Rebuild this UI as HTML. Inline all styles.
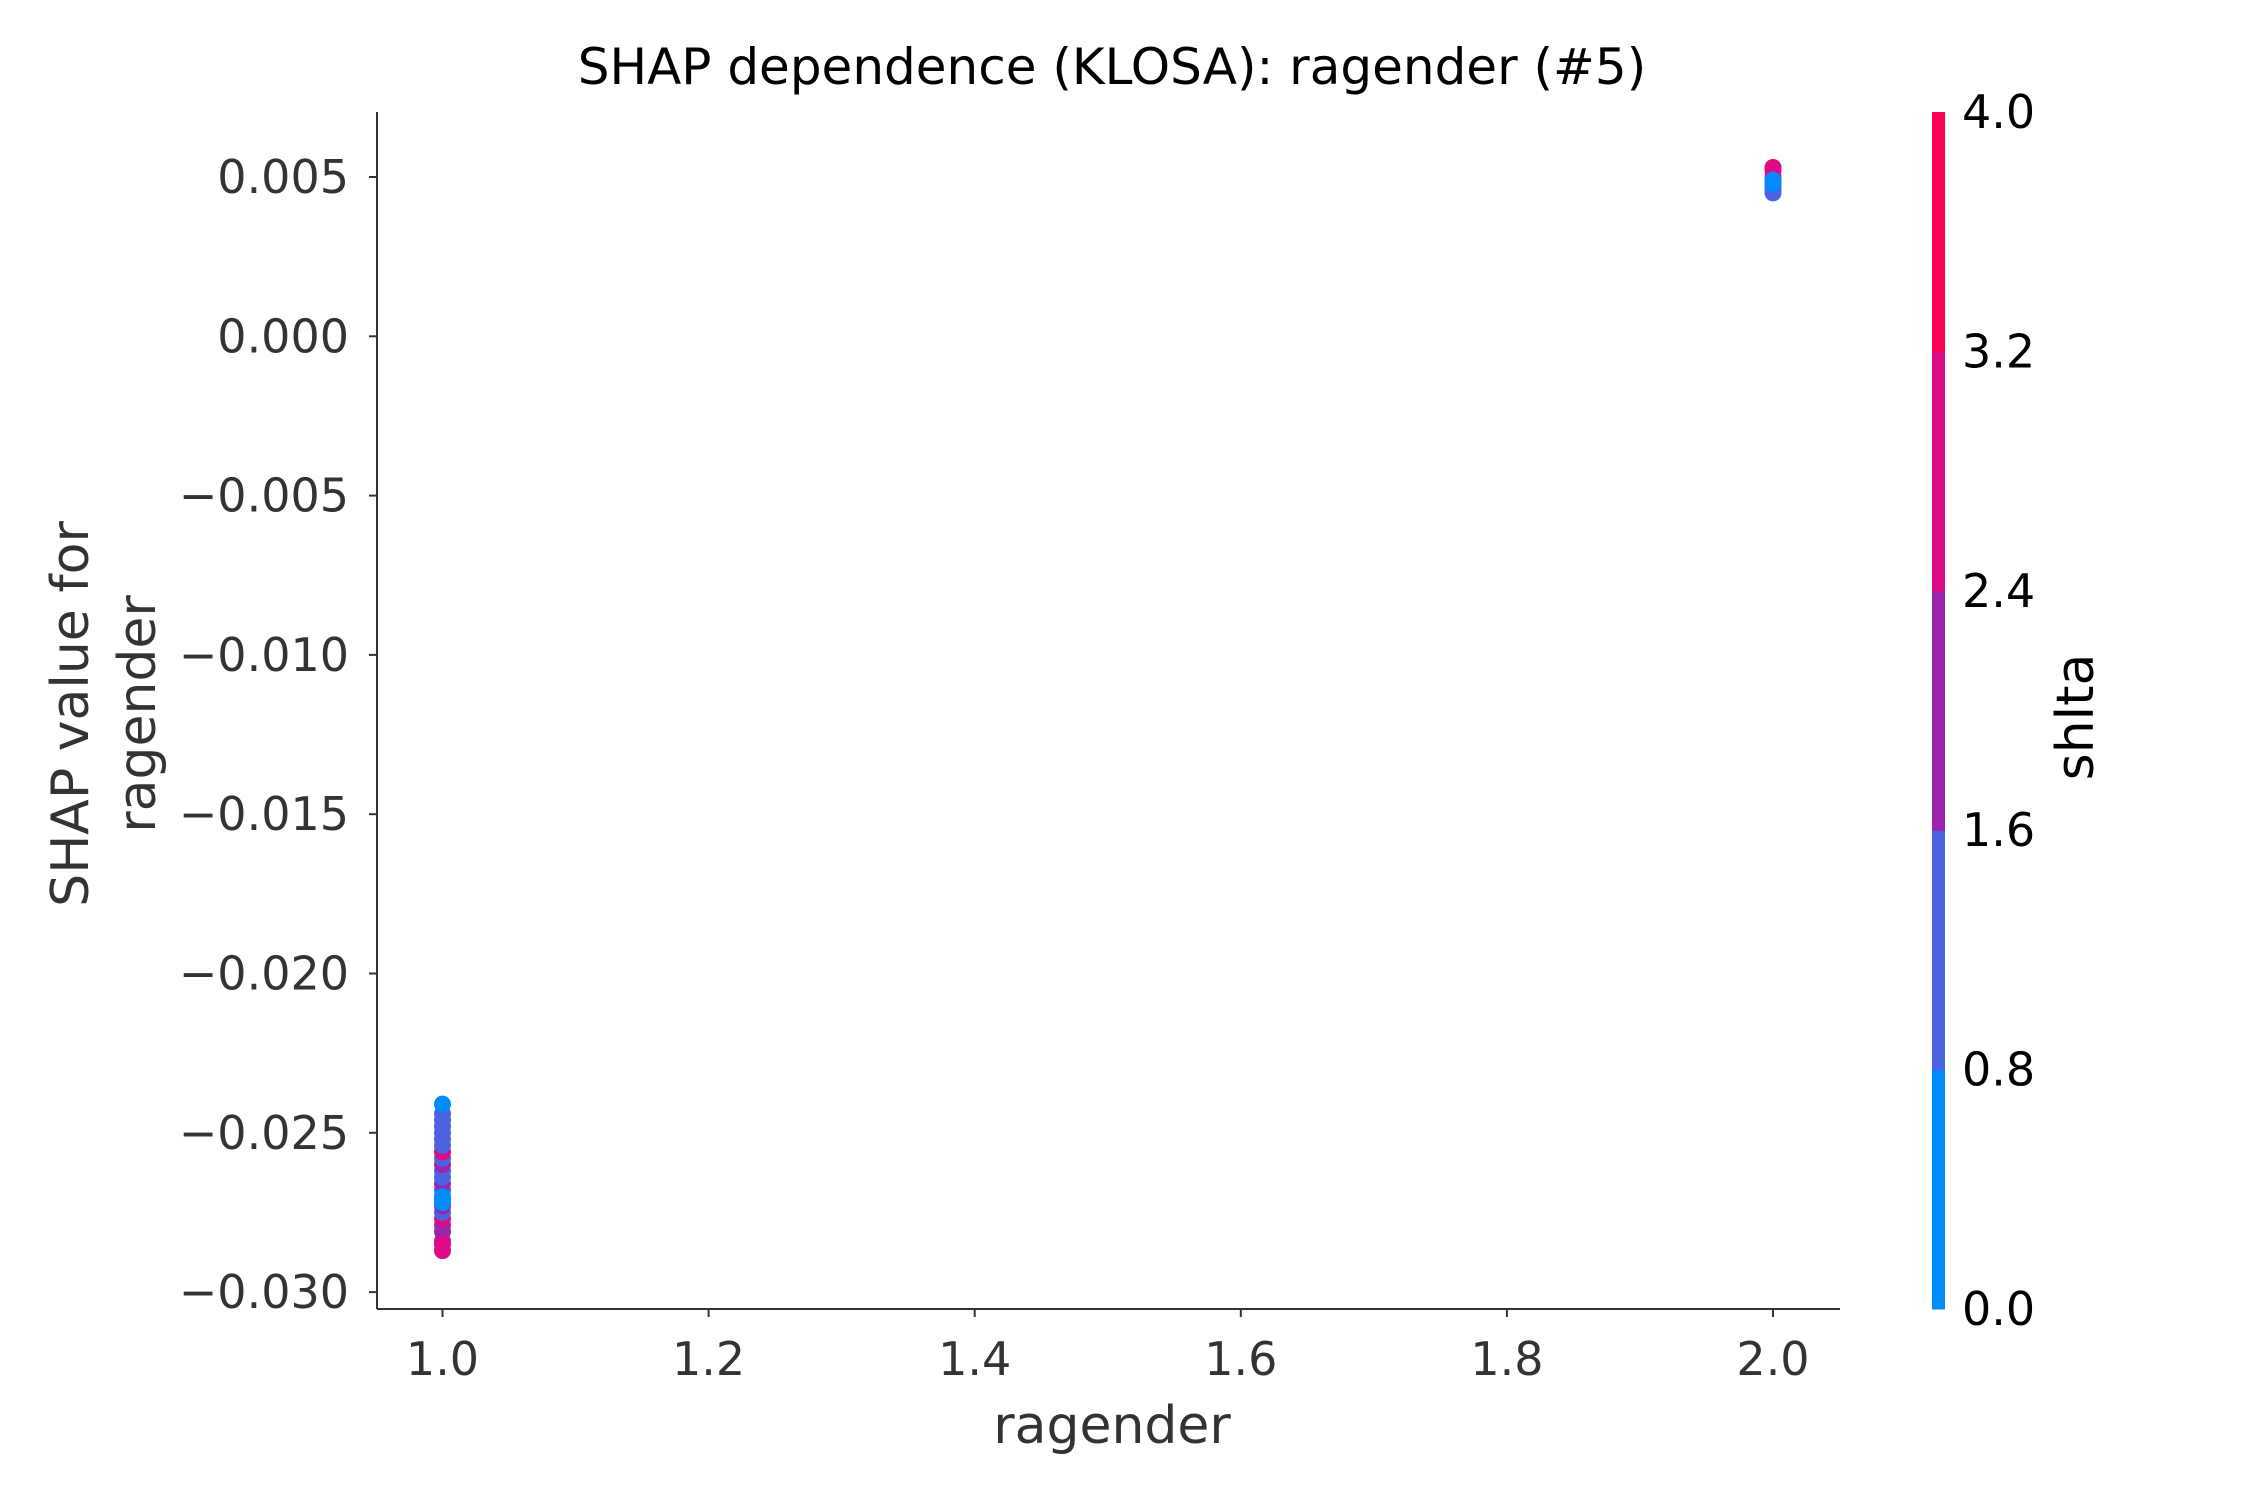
<!DOCTYPE html>
<html><head><meta charset="utf-8"><style>
body{margin:0;background:#fff}
svg text{font-family:"DejaVu Sans","Liberation Sans",sans-serif}
</style></head><body>
<svg id="chart" width="2250" height="1500" xmlns="http://www.w3.org/2000/svg">
<text x="1112" y="84" text-anchor="middle" font-size="50" fill="#000">SHAP dependence (KLOSA): ragender (#5)</text>
<g id="plot"></g>
<g id="axes"></g>
<g id="cbar"></g>
</svg>
<script>
const xTicks=[1.0,1.2,1.4,1.6,1.8,2.0];
const yTicks=[0.005,0.000,-0.005,-0.010,-0.015,-0.020,-0.025,-0.030];
const yTickLabels=["0.005","0.000","\u22120.005","\u22120.010","\u22120.015","\u22120.020","\u22120.025","\u22120.030"];
const cTicks=[0.0,0.8,1.6,2.4,3.2,4.0];
const cTickLabels=["0.0","0.8","1.6","2.4","3.2","4.0"];
const ptX=[1,1,1,1,1,1,1,1,1,1,1,1,1,1,1,1,1,1,1,1,1,1,1,1,1,2,2,2,2,2,2,2,2];
const ptY=[-0.0287,-0.0284,-0.0281,-0.0279,-0.0277,-0.0275,-0.0273,-0.0271,-0.0268,-0.0266,-0.0264,-0.0262,-0.0260,-0.0258,-0.0256,-0.0254,-0.0252,-0.0250,-0.0248,-0.0246,-0.0244,-0.0272,-0.0270,-0.0241,-0.0285,0.0045,0.0046,0.0047,0.0048,0.0050,0.0052,0.0053,0.0049];
const ptC=[3,3,2,2,3,1,2,0,1,2,1,1,2,1,3,1,1,1,1,1,1,0,0,0,3,1,1,1,0,3,3,3,0];
const cColors=["#008bfb","#4b62e3","#9b25ab","#dd0a85","#ff0052"];
const NS="http://www.w3.org/2000/svg";
const X0=377,X1=1840,Y0=112,Y1=1309;
function sx(v){return 442.5+(v-1)*(1773-442.5);}
function sy(v){return 177+(0.005-v)/0.005*159.3;}
function mk(t,a,p){const e=document.createElementNS(NS,t);for(const k in a)e.setAttribute(k,a[k]);p.appendChild(e);return e;}
const plot=document.getElementById('plot'),axes=document.getElementById('axes'),cb=document.getElementById('cbar');
ptX.forEach((x,i)=>{
 const c=mk('circle',{cx:sx(x),cy:sy(ptY[i]),r:8.5,fill:cColors[ptC[i]]},plot);
 
 
});
let l=mk('line',{x1:X0,y1:Y0,x2:X0,y2:Y1,stroke:'#333','stroke-width':2},axes);

l=mk('line',{x1:X0,y1:Y1,x2:X1,y2:Y1,stroke:'#333','stroke-width':2},axes);

xTicks.forEach(v=>{
 mk('line',{x1:sx(v),y1:Y1,x2:sx(v),y2:Y1+8,stroke:'#333','stroke-width':2},axes);
 const t=mk('text',{x:sx(v),y:Y1+66,'text-anchor':'middle','font-size':46,fill:'#333'},axes);
 t.textContent=v.toFixed(1);
 
});
yTicks.forEach((v,i)=>{
 mk('line',{x1:X0-8,y1:sy(v),x2:X0,y2:sy(v),stroke:'#333','stroke-width':2},axes);
 const t=mk('text',{x:X0-28,y:sy(v)+16,'text-anchor':'end','font-size':46,fill:'#333'},axes);
 t.textContent=yTickLabels[i];
 
});
let t=mk('text',{x:1112,y:1443,'text-anchor':'middle','font-size':52,fill:'#333'},axes);
t.textContent='ragender';
t=mk('text',{transform:'translate(88,714) rotate(-90)','text-anchor':'middle','font-size':52,fill:'#333'},axes);
t.textContent='SHAP value for';
t=mk('text',{transform:'translate(155,714) rotate(-90)','text-anchor':'middle','font-size':52,fill:'#333'},axes);
t.textContent='ragender';
const CX=1932,CW=13,cmax=4.0;
function cy(v){return Y1-(v/cmax)*(Y1-Y0);}
for(let i=0;i<5;i++){
 const r=mk('rect',{x:CX,y:cy(cTicks[i+1]),width:CW,height:cy(cTicks[i])-cy(cTicks[i+1])+0.5,fill:cColors[i]},cb);
 
}
cTicks.forEach((v,i)=>{
 const tt=mk('text',{x:1962,y:cy(v)+16,'font-size':46,fill:'#000'},cb);
 tt.textContent=cTickLabels[i];
 
});
t=mk('text',{transform:'translate(2093,717) rotate(-90)','text-anchor':'middle','font-size':52,fill:'#000'},cb);
t.textContent='shlta';
</script>
</body></html>
